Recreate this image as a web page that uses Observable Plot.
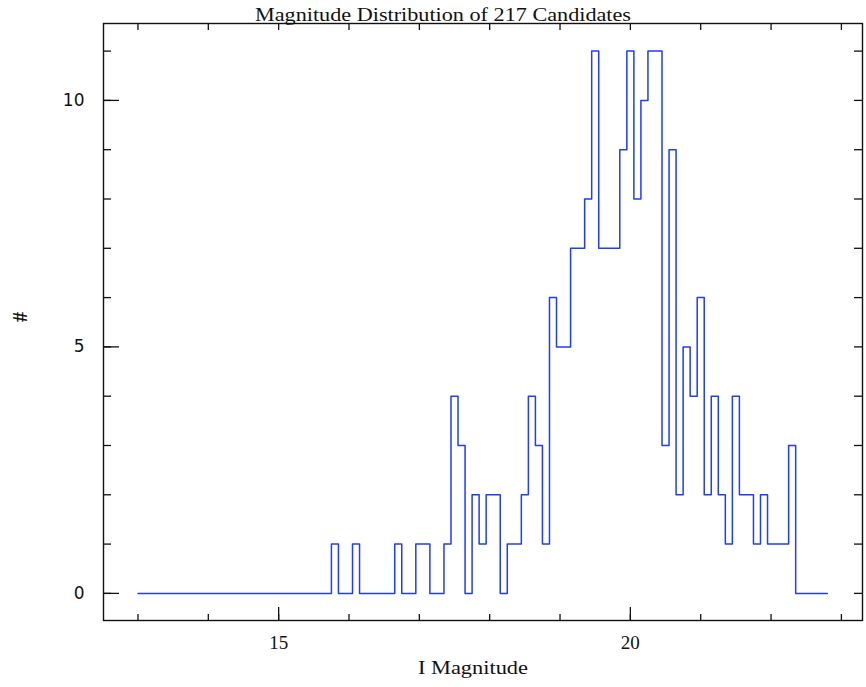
<!DOCTYPE html>
<html>
<head>
<meta charset="utf-8">
<script src="https://cdn.jsdelivr.net/npm/d3@7"></script>
<script src="https://cdn.jsdelivr.net/npm/@observablehq/plot@0.6"></script>
<style>
  html, body { margin: 0; padding: 0; background: #fff; }
  #chart { width: 866px; height: 687px; }
</style>
</head>
<body>
<div id="chart"></div>
<script>
// Histogram of I magnitudes: bin centres every 0.1 mag from 13.0 to 22.8 (PGBIN-style steps)
const binCentres = d3.range(0, 99).map(i => +(13.0 + i * 0.1).toFixed(1));
const counts = [
  0,0,0,0,0,0,0,0,0,0, 0,0,0,0,0,0,0,0,0,0, 0,0,0,0,0,0,0,0,       // 13.0 - 15.7
  1,0,0,1,0,0,0,0,0,1,0,0,1,1,0,0,                                  // 15.8 - 17.3
  1,4,3,0,2,1,2,2,0,1,1,2,4,3,1,6,5,5,7,7,8,11,                     // 17.4 - 19.5
  7,7,7,9,11,8,10,11,11,3,9,2,5,4,6,2,4,2,1,4,2,2,1,2,1,1,1,3,      // 19.6 - 22.3
  0,0,0,0,0                                                         // 22.4 - 22.8
];
const xMajorTicks = [15, 20];
const xAllTicks = [13, 14, 15, 16, 17, 18, 19, 20, 21, 22, 23];
const yMajorTicks = [0, 5, 10];
const yAllTicks = [0, 1, 2, 3, 4, 5, 6, 7, 8, 9, 10, 11];
const titleText = "Magnitude Distribution of 217 Candidates";
const xLabel = "I Magnitude";
const yLabel = "#";

// step outline: from first centre, changing level at midpoints, ending at last centre
const n = counts.length;
const steps = [{x: binCentres[0], y: counts[0]}];
for (let i = 1; i < n; i++) steps.push({x: (binCentres[i - 1] + binCentres[i]) / 2, y: counts[i]});
steps.push({x: binCentres[n - 1], y: counts[n - 1]});

const W = 866, H = 687;
const mL = 103, mR = 4, mT = 23, mB = 67;
const fw = W - mL - mR, fh = H - mT - mB;
const serif = "Liberation Serif, Times New Roman, serif";
const sans = "DejaVu Sans, sans-serif";
const ink = "#111";

const plot = Plot.plot({
  width: W, height: H,
  marginLeft: mL, marginRight: mR, marginTop: mT, marginBottom: mB,
  x: {domain: [12.51, 23.3], axis: null},
  y: {domain: [-0.55, 11.56], axis: null},
  style: {background: "#fff", overflow: "visible"},
  marks: [
    Plot.line(steps, {x: "x", y: "y", curve: "step-after", stroke: "#1f3cff", strokeWidth: 1.5}),
    // bottom ticks
    Plot.tickX(xAllTicks, {x: d => d, insetTop: fh - 6, stroke: ink, strokeWidth: 1.3}),
    Plot.tickX(xMajorTicks, {x: d => d, insetTop: fh - 13, stroke: ink, strokeWidth: 1.3}),
    // top ticks
    Plot.tickX(xAllTicks, {x: d => d, insetBottom: fh - 7, stroke: ink, strokeWidth: 1.3}),
    // left ticks
    Plot.tickY(yAllTicks, {y: d => d, insetRight: fw - 8, stroke: ink, strokeWidth: 1.3}),
    Plot.tickY(yMajorTicks, {y: d => d, insetRight: fw - 16, stroke: ink, strokeWidth: 1.3}),
    // right ticks
    Plot.tickY(yAllTicks, {y: d => d, insetLeft: fw - 8, stroke: ink, strokeWidth: 1.3}),
    Plot.frame({stroke: ink, strokeWidth: 1.4}),
    // tick labels
    Plot.text(xMajorTicks, {x: d => d, text: d => String(d), frameAnchor: "bottom", lineAnchor: "middle", dy: 23, fontSize: 18, fontFamily: serif, fill: ink, className: "xtl"}),
    Plot.text(yMajorTicks, {y: d => d, text: d => String(d), frameAnchor: "left", lineAnchor: "middle", dx: -19, textAnchor: "end", fontSize: 17, fontFamily: sans, fill: ink}),
    // axis labels and title
    Plot.text([xLabel], {text: d => d, frameAnchor: "bottom", lineAnchor: "middle", dx: -10, dy: 47, fontSize: 19, fontFamily: serif, fill: ink, className: "xlab"}),
    Plot.text([yLabel], {text: d => d, frameAnchor: "left", lineAnchor: "middle", dx: -83, rotate: -90, fontSize: 20, fontFamily: serif, fontWeight: "bold", fill: ink}),
    Plot.text([titleText], {text: d => d, frameAnchor: "top", lineAnchor: "middle", dx: -40, dy: -8.5, fontSize: 19, fontFamily: serif, fill: ink, className: "ttl"})
  ]
});
document.getElementById("chart").appendChild(plot);

// widen the serif labels to the proportions of the original raster
const stretch = (cls, len) => {
  plot.querySelectorAll(`g.${cls} text`).forEach(t => {
    t.setAttribute("textLength", len);
    t.setAttribute("lengthAdjust", "spacingAndGlyphs");
  });
};
stretch("ttl", 376);
stretch("xlab", 110);
stretch("xtl", 19);
</script>
</body>
</html>
